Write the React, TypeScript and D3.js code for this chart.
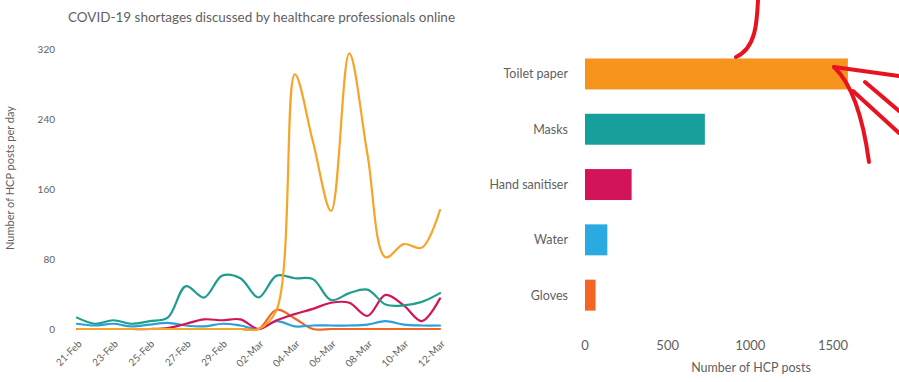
import React from "react";
import * as d3 from "d3";

const dates = ["21-Feb","22-Feb","23-Feb","24-Feb","25-Feb","26-Feb","27-Feb","28-Feb","29-Feb","01-Mar","02-Mar","03-Mar","04-Mar","05-Mar","06-Mar","07-Mar","08-Mar","09-Mar","10-Mar","11-Mar","12-Mar"];
const dateTicks = ["21-Feb","23-Feb","25-Feb","27-Feb","29-Feb","02-Mar","04-Mar","06-Mar","08-Mar","10-Mar","12-Mar"];
const yTicks = [0, 80, 160, 240, 320];

const toiletPaper = [0,0,0,0,0,0,0,0,0,0,0,22,291,214,135,315,200,82,97,93,136];
const masks = [13,6,10,6,9,13,49,36,61,58,36,61,58,57,33,41,45,28,27,31,41];
const handSanitiser = [0,0,0,0,0,1,6,11,10,11,0,10,17,23,30,30,15,39,27,9,35];
const water = [6,4,6,3,5,7,4,3,6,4,0,9,3,4,4,4,5,9,5,4,4];
const gloves = [0,0,0,0,0,0,0,0,0,0,0,22,12,0,0,0,0,0,0,0,0];

const categories = ["Toilet paper","Masks","Hand sanitiser","Water","Gloves"];
const totals = [1590, 725, 282, 135, 64];
const barTicks = [0, 500, 1000, 1500];

const colors = ["#F7941D", "#17A09B", "#D4145A", "#29ABE2", "#F26522"];
const lineColors = ["#F7A428", "#1E9E8C", "#D4145A", "#2B9FD9", "#F26522"];

const FONT = "Lato, 'Open Sans', sans-serif";
const GREY = "#5f5f5f";

export default function App() {
  const W = 899, H = 382;
  const x = d3.scalePoint<string>().domain(dates).range([77, 440]);
  const y = d3.scaleLinear().domain([0, 320]).range([329, 49]);
  const line = d3.line<number>()
    .x((_, i) => x(dates[i]) as number)
    .y((v) => y(v))
    .curve(d3.curveCatmullRom.alpha(0.5));

  const series = [gloves, water, handSanitiser, masks, toiletPaper];
  const seriesColors = [lineColors[4], lineColors[3], lineColors[2], lineColors[1], lineColors[0]];

  const bx = d3.scaleLinear().domain([0, 1500]).range([585, 833]);
  const by = d3.scaleBand<string>().domain(categories).range([46.3, 322.8]).paddingInner(0.44).paddingOuter(0.22);

  return (
    <svg width={W} height={H} style={{ position: "absolute", left: 0, top: 0, background: "#fff" }} fontFamily={FONT}>
      <rect x={0} y={0} width={W} height={H} fill="#fff" />
      <text x={68} y={22} fontSize={14} fill={GREY} textLength={387} lengthAdjust="spacingAndGlyphs">
        COVID-19 shortages discussed by healthcare professionals online
      </text>

      {/* Left: line chart */}
      <text transform={`translate(14,178) rotate(-90)`} textAnchor="middle" fontSize={11} fill={GREY}>
        Number of HCP posts per day
      </text>
      {yTicks.map((t) => (
        <text key={t} x={55} y={y(t)} dy="0.35em" textAnchor="end" fontSize={10} fill={GREY}>{t}</text>
      ))}
      {dateTicks.map((d) => (
        <text key={d} transform={`translate(${(x(d) as number) + 3},${342}) rotate(-45)`} textAnchor="end" dy="0.35em" fontSize={10} fill={GREY}>{d}</text>
      ))}
      {series.map((s, i) => (
        <path key={i} d={line(s) || ""} fill="none" stroke={seriesColors[i]} strokeWidth={2.2} strokeLinejoin="round" strokeLinecap="round" />
      ))}

      {/* Right: bar chart */}
      {categories.map((c, i) => (
        <g key={c}>
          <rect x={bx(0)} y={by(c)} width={bx(totals[i]) - bx(0)} height={by.bandwidth()} fill={colors[i]} />
          <text x={568} y={(by(c) as number) + by.bandwidth() / 2} dy="0.35em" textAnchor="end" fontSize={12.5} fill={GREY}>{c}</text>
        </g>
      ))}
      {barTicks.map((t) => (
        <text key={t} x={bx(t)} y={345} dy="0.35em" textAnchor="middle" fontSize={13} fill={GREY}>{t}</text>
      ))}
      <text x={751} y={368} dy="0.35em" textAnchor="middle" fontSize={12.5} fill={GREY}>Number of HCP posts</text>

      {/* Red hand-drawn annotations */}
      <g fill="none" stroke="#E8131F" strokeWidth={4} strokeLinecap="round" strokeLinejoin="round">
        <path d="M 758 0 C 757 22, 756 48, 736 57" />
        <path d="M 899 76 L 834 67" />
        <path d="M 834 67 C 850 82, 862 110, 869 162" />
        <path d="M 865 82 L 899 111" />
        <path d="M 853 91 L 899 133" />
      </g>
    </svg>
  );
}
